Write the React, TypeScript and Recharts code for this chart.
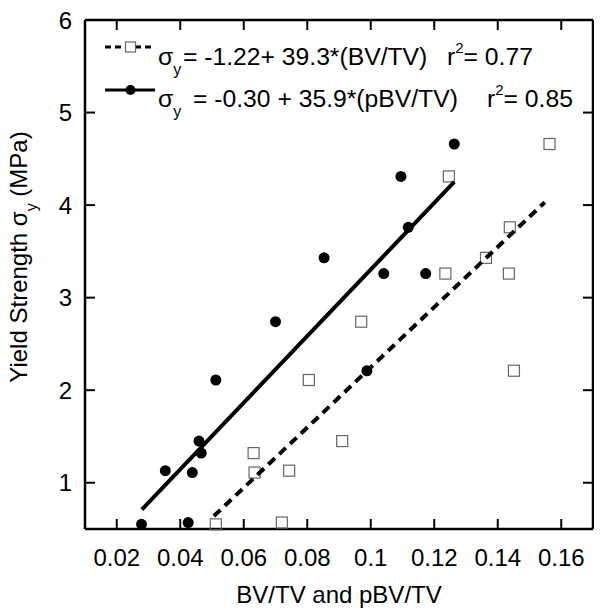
import { ScatterChart, Scatter, XAxis, YAxis, Label } from 'recharts';

const FONT = '"Liberation Sans", Arial, sans-serif';

// yield strength (MPa), shared by both volume fraction measures
const yieldStrength = [4.66, 4.31, 3.76, 3.43, 3.26, 3.26, 2.74, 2.21, 2.11, 1.45, 1.32, 1.13, 1.11, 0.57, 0.55];
const bvtv = [0.1563, 0.1246, 0.1438, 0.1363, 0.1235, 0.1435, 0.097, 0.1451, 0.0805, 0.091, 0.0631, 0.0743, 0.0634, 0.072, 0.0512];
const pbvtv = [0.1263, 0.1095, 0.1118, 0.0853, 0.1041, 0.1173, 0.07, 0.0988, 0.0512, 0.0459, 0.0466, 0.0353, 0.0438, 0.0425, 0.0278];

// regression line end points as drawn
const fitBvX = [0.0506, 0.1548];
const fitBvY = [0.64, 4.03];
const fitPbvX = [0.0279, 0.1263];
const fitPbvY = [0.71, 4.25];

const xTicks = [0.02, 0.04, 0.06, 0.08, 0.1, 0.12, 0.14, 0.16];
const yTicks = [1, 2, 3, 4, 5, 6];
const yTicksRight = [1, 2, 3, 4, 5];

const bvData = bvtv.map((x, i) => ({ x, y: yieldStrength[i] }));
const pbvData = pbvtv.map((x, i) => ({ x, y: yieldStrength[i] }));
const fitBv = fitBvX.map((x, i) => ({ x, y: fitBvY[i] }));
const fitPbv = fitPbvX.map((x, i) => ({ x, y: fitPbvY[i] }));

const Square = (props: any) => {
    const { cx, cy } = props;
    return <rect x={cx - 5.5} y={cy - 5.5} width={11} height={11} fill="none" stroke="#666" strokeWidth={1.2} />;
};

const Dot = (props: any) => {
    const { cx, cy } = props;
    return <circle cx={cx} cy={cy} r={5.5} fill="#000" />;
};

const NoShape = () => <g />;

// inward tick marks, labels outside
const BottomTick = (props: any) => {
    const { x, y, payload } = props;
    return (
        <g>
            <line x1={x} x2={x} y1={y} y2={y - 10} stroke="#000" strokeWidth={2} />
            <text x={x} y={y + 37} textAnchor="middle" fontSize={24} fontFamily={FONT} fill="#000">
                {payload.value}
            </text>
        </g>
    );
};

const LeftTick = (props: any) => {
    const { x, y, payload } = props;
    return (
        <g>
            <line x1={x} x2={x + 10} y1={y} y2={y} stroke="#000" strokeWidth={2} />
            <text x={x - 13} y={y + 8.5} textAnchor="end" fontSize={24} fontFamily={FONT} fill="#000">
                {payload.value}
            </text>
        </g>
    );
};

const TopTick = (props: any) => {
    const { x, y } = props;
    return <line x1={x} x2={x} y1={y} y2={y + 10} stroke="#000" strokeWidth={2} />;
};

const RightTick = (props: any) => {
    const { x, y } = props;
    return <line x1={x} x2={x - 10} y1={y} y2={y} stroke="#000" strokeWidth={2} />;
};

const LegendBox = (props: any) => {
    const vb = props.viewBox || { x: 77, y: 12, height: 0 };
    const ox = vb.x + 15;
    const oy = vb.y + vb.height + 10;
    return (
        <g transform={`translate(${ox},${oy})`} fontFamily={FONT} fill="#000">
            <line x1={5} x2={55} y1={17} y2={17} stroke="#000" strokeWidth={3} strokeDasharray="6 4" />
            <rect x={25.5} y={12} width={10} height={10} fill="#fff" stroke="#666" strokeWidth={1.2} />
            <text x={58} y={35} fontSize={24.7} style={{ whiteSpace: 'pre' }}>
                σ<tspan fontSize={16} dy={10}>y</tspan>
                <tspan x={83} dy={-10}>= -1.22+ 39.3*(BV/TV)</tspan>
            </text>
            <text x={347} y={35} fontSize={24.7} style={{ whiteSpace: 'pre' }}>
                r<tspan fontSize={15} dy={-12}>2</tspan>
                <tspan dy={12}>= 0.77</tspan>
            </text>

            <line x1={5} x2={55} y1={60} y2={60} stroke="#000" strokeWidth={3} />
            <circle cx={30.5} cy={60} r={5} fill="#000" />
            <text x={58} y={77} fontSize={24.7} style={{ whiteSpace: 'pre' }}>
                σ<tspan fontSize={16} dy={10}>y</tspan>
                <tspan x={93} dy={-10}>= -0.30 + 35.9*(pBV/TV)</tspan>
            </text>
            <text x={387} y={77} fontSize={24.7} style={{ whiteSpace: 'pre' }}>
                r<tspan fontSize={15} dy={-12}>2</tspan>
                <tspan dy={12}>= 0.85</tspan>
            </text>
        </g>
    );
};

const XLabel = (props: any) => {
    const vb = props.viewBox;
    return (
        <text x={vb.x + vb.width / 2} y={vb.y + 74} textAnchor="middle" fontSize={24} fontFamily={FONT} fill="#000">
            BV/TV and pBV/TV
        </text>
    );
};

const YLabel = () => (
    <text transform="translate(19,249) rotate(-90)" textAnchor="middle" fontSize={24} fontFamily={FONT} fill="#000">
        Yield Strength σ<tspan fontSize={16} dy={10}>y</tspan>
        <tspan dy={-10}> (MPa)</tspan>
    </text>
);

const axisLineStyle = { stroke: '#000', strokeWidth: 2.5 };

export default function App() {
    return (
        <div style={{ width: 594, height: 607, background: '#fff' }}>
            <ScatterChart width={594} height={607} margin={{ top: 11, right: 8, left: 0, bottom: 0 }}>
                <XAxis
                    xAxisId={0}
                    type="number"
                    dataKey="x"
                    domain={[0.01, 0.17]}
                    ticks={xTicks}
                    height={86}
                    tickSize={0}
                    tickMargin={0}
                    tick={BottomTick}
                    axisLine={axisLineStyle}
                    tickLine={false}
                    stroke="#000"
                    label={<Label content={XLabel} />}
                />
                <XAxis
                    xAxisId="top"
                    orientation="top"
                    type="number"
                    dataKey="x"
                    domain={[0.01, 0.17]}
                    ticks={xTicks}
                    height={1}
                    tickSize={0}
                    tickMargin={0}
                    tick={TopTick}
                    axisLine={axisLineStyle}
                    tickLine={false}
                    stroke="#000"
                    label={<Label content={LegendBox} />}
                />
                <YAxis
                    yAxisId={0}
                    type="number"
                    dataKey="y"
                    domain={[0.5, 6]}
                    ticks={yTicks}
                    width={77}
                    tickSize={0}
                    tickMargin={0}
                    tick={LeftTick}
                    axisLine={axisLineStyle}
                    tickLine={false}
                    stroke="#000"
                    label={<Label content={YLabel} />}
                />
                <YAxis
                    yAxisId="right"
                    orientation="right"
                    type="number"
                    dataKey="y"
                    domain={[0.5, 6]}
                    ticks={yTicksRight}
                    width={1}
                    tickSize={0}
                    tickMargin={0}
                    tick={RightTick}
                    axisLine={axisLineStyle}
                    tickLine={false}
                    stroke="#000"
                />
                <Scatter data={bvData} shape={Square} isAnimationActive={false} />
                <Scatter
                    xAxisId="top"
                    yAxisId="right"
                    data={fitBv}
                    shape={NoShape}
                    line={{ stroke: '#000', strokeWidth: 4, strokeDasharray: '9 6' }}
                    isAnimationActive={false}
                />
                <Scatter
                    xAxisId="top"
                    yAxisId="right"
                    data={fitPbv}
                    shape={NoShape}
                    line={{ stroke: '#000', strokeWidth: 4 }}
                    isAnimationActive={false}
                />
                <Scatter data={pbvData} shape={Dot} isAnimationActive={false} />
            </ScatterChart>
        </div>
    );
}
